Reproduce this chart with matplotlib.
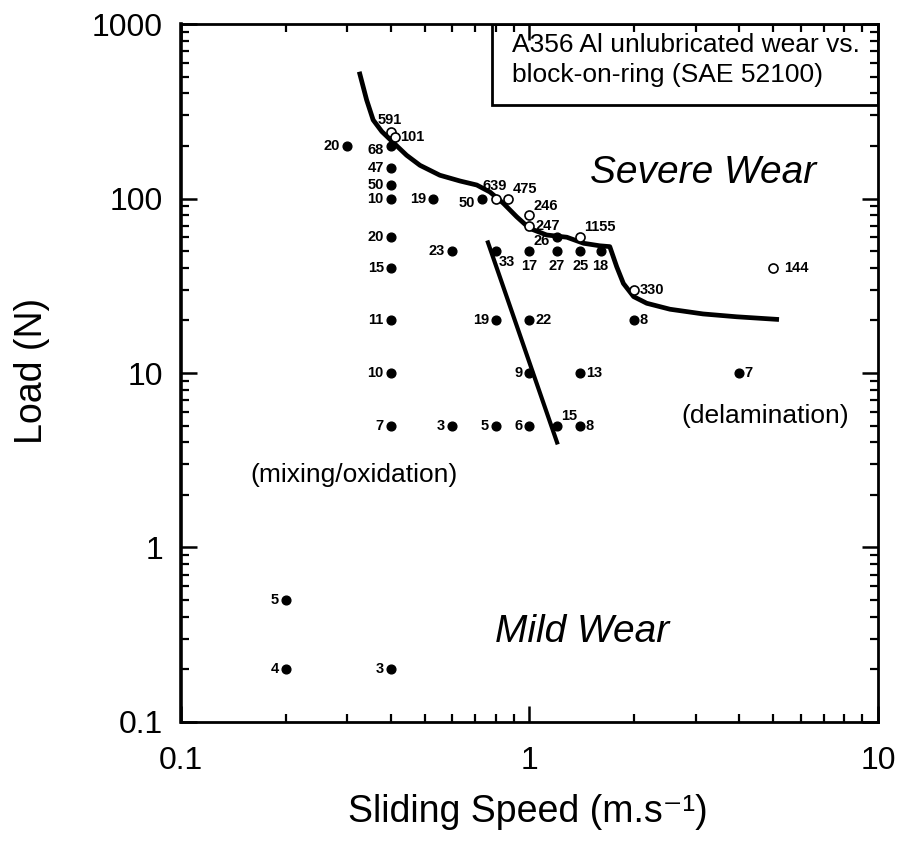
import matplotlib.pyplot as plt
import matplotlib.ticker as ticker
from matplotlib.patches import Rectangle

plt.rcParams['font.family'] = ['Liberation Sans', 'DejaVu Sans']

# filled points: mild wear tests (speed m/s, load N, label)
mild_speed = [0.3, 0.4, 0.4, 0.4, 0.4, 0.53, 0.73, 0.4, 0.6, 0.4,
              0.8, 1.0, 1.2, 1.2, 1.4, 1.6, 0.4, 0.8, 1.0, 2.0,
              0.4, 1.0, 1.4, 4.0, 0.4, 0.6, 0.8, 1.0, 1.2, 1.4,
              0.2, 0.2, 0.4]
mild_load = [200, 200, 150, 120, 100, 100, 100, 60, 50, 40,
             50, 50, 60, 50, 50, 50, 20, 20, 20, 20,
             10, 10, 10, 10, 5, 5, 5, 5, 5, 5,
             0.5, 0.2, 0.2]
mild_labels = ['20', '68', '47', '50', '10', '19', '50', '20', '23', '15',
               '33', '17', '26', '27', '25', '18', '11', '19', '22', '8',
               '10', '9', '13', '7', '7', '3', '5', '6', '15', '8',
               '5', '4', '3']
mild_side = ['l', 'lb', 'l', 'l', 'l', 'l', 'lb', 'l', 'l', 'l',
             'rb', 'b', 'lb', 'b', 'b', 'b', 'l', 'l', 'r', 'r',
             'l', 'l', 'r', 'r', 'l', 'l', 'l', 'l', 'ur', 'r',
             'l', 'l', 'l']

# open points: severe wear tests
severe_speed = [0.4, 0.41, 0.8, 0.87, 1.0, 1.0, 1.4, 2.0, 5.0]
severe_load = [240, 225, 100, 100, 80, 70, 60, 30, 40]
severe_labels = ['591', '101', '639', '475', '246', '247', '1155', '330', '144']
severe_side = ['a', 'r', 'a', 'ur', 'ur', 'r', 'ur', 'r', 'rr']

# mild/severe transition boundary
bound_speed = [0.326, 0.341, 0.356, 0.377, 0.409, 0.444, 0.485, 0.553, 0.632,
               0.706, 0.77, 0.841, 0.919, 1.0, 1.12, 1.28, 1.43, 1.59, 1.70,
               1.78, 1.86, 1.99, 2.17, 2.53, 3.15, 3.93, 5.12]
bound_load = [517, 367, 282, 242, 207, 177, 155, 136, 126,
              119.5, 109, 94, 78.6, 67.5, 61.8, 60, 55.4, 53.6, 53,
              40.6, 32.6, 27.4, 25.1, 23.2, 21.8, 21.0, 20.3]

# mixing/oxidation vs delamination divide
divide_speed = [0.76, 1.2]
divide_load = [56, 4]

offsets = {
    'l': ((-5, 0), 'right', 'center'),
    'lb': ((-5, -3), 'right', 'center'),
    'r': ((4, 0), 'left', 'center'),
    'rr': ((8, 0), 'left', 'center'),
    'rb': ((2, -3), 'left', 'top'),
    'ur': ((3, 2), 'left', 'bottom'),
    'a': ((-1, 4), 'center', 'bottom'),
    'b': ((0, -6), 'center', 'top'),
}

fig = plt.figure(figsize=(9.04, 8.46), dpi=100)
ax = fig.add_axes([0.2002, 0.1466, 0.771, 0.825])

ax.plot(bound_speed, bound_load, '-', color='black', lw=3.4, solid_joinstyle='round', zorder=2)
ax.plot(divide_speed, divide_load, '-', color='black', lw=3.0, zorder=2)

ax.plot(mild_speed, mild_load, 'o', color='black', ms=6.3, zorder=3)
ax.plot(severe_speed, severe_load, 'o', mfc='white', mec='black', mew=1.2, ms=6.5, zorder=3)

for xs, ys, labs, sides in [(mild_speed, mild_load, mild_labels, mild_side),
                            (severe_speed, severe_load, severe_labels, severe_side)]:
    for x, y, t, s in zip(xs, ys, labs, sides):
        off, ha, va = offsets[s]
        ax.annotate(t, (x, y), xytext=off, textcoords='offset points',
                    ha=ha, va=va, fontsize=10.5, fontweight='bold')

ax.set_xscale('log')
ax.set_yscale('log')
ax.set_xlim(0.1, 10)
ax.set_ylim(0.1, 1000)

fmt = ticker.FuncFormatter(lambda v, _: f'{v:g}')
ax.xaxis.set_major_formatter(fmt)
ax.yaxis.set_major_formatter(fmt)
ax.xaxis.set_minor_formatter(ticker.NullFormatter())
ax.yaxis.set_minor_formatter(ticker.NullFormatter())
ax.tick_params(which='both', direction='in', top=True, right=True, labelsize=23)
ax.tick_params(axis='x', pad=17)
ax.tick_params(axis='y', pad=13)
ax.tick_params(which='major', length=11.5, width=1.8)
ax.tick_params(which='minor', length=6, width=1.6)
for sp in ax.spines.values():
    sp.set_linewidth(2.0)
ax.spines['left'].set_linewidth(2.6)

ax.set_xlabel('Sliding Speed (m.s⁻¹)', fontsize=27)
ax.set_ylabel('Load (N)', fontsize=27)
ax.xaxis.set_label_coords(0.498, -0.103)
ax.yaxis.set_label_coords(-0.188, 0.503)

ax.text(0.749, 0.772, 'Severe Wear', transform=ax.transAxes, fontsize=28,
        style='italic', ha='center', va='baseline')
ax.text(0.576, 0.115, 'Mild Wear', transform=ax.transAxes, fontsize=28,
        style='italic', ha='center', va='baseline')
ax.text(0.838, 0.428, '(delamination)', transform=ax.transAxes, fontsize=19,
        ha='center', va='baseline')
ax.text(0.248, 0.344, '(mixing/oxidation)', transform=ax.transAxes, fontsize=19,
        ha='center', va='baseline')

# caption box in the upper right corner
ax.add_patch(Rectangle((0.446, 0.884), 0.554, 0.116, transform=ax.transAxes,
                       fill=False, ec='black', lw=2.0, zorder=4))
ax.text(0.475, 0.948, 'A356 Al unlubricated wear vs.\nblock-on-ring (SAE 52100)',
        transform=ax.transAxes, fontsize=19, ha='left', va='center', linespacing=1.3)

fig.savefig('out.png', dpi=100)
